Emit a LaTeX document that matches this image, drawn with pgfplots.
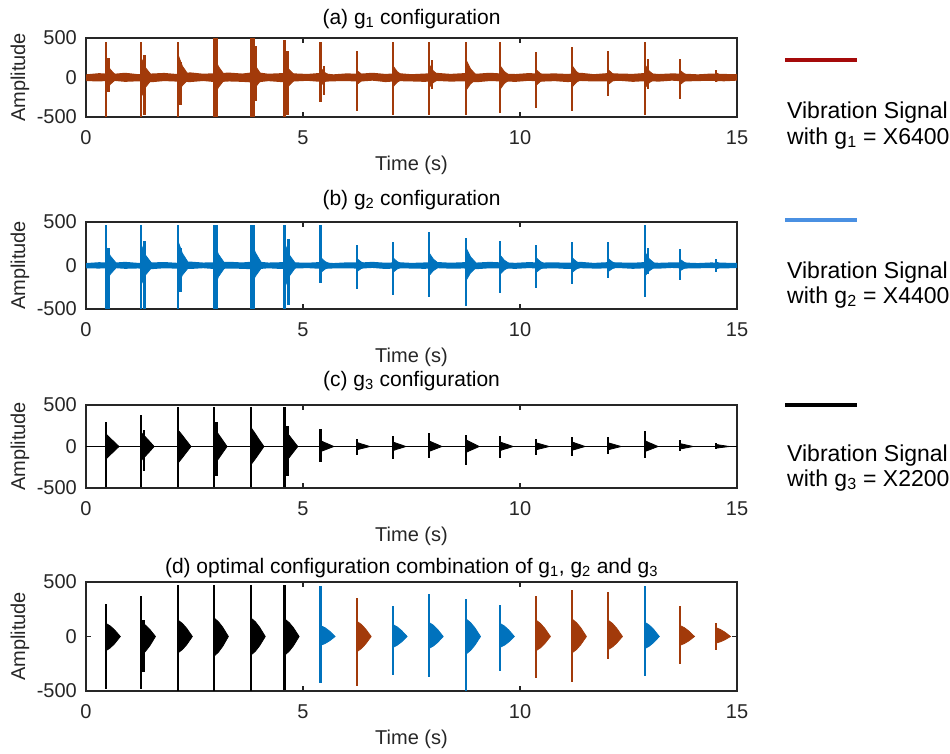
\documentclass[border=0pt]{standalone}
\usepackage{fontspec}
\setmainfont{Liberation Sans}
\usepackage{pgfplots}
\pgfplotsset{compat=1.18}

\definecolor{axgray}{RGB}{38,38,38}
\definecolor{sigred}{RGB}{162,58,10}
\definecolor{sigblue}{RGB}{0,114,189}
\definecolor{legred}{RGB}{165,10,10}
\definecolor{legblue}{RGB}{74,144,226}

\newcommand{\tfont}{\fontsize{21}{21}\selectfont}
\newcommand{\lfont}{\fontsize{23}{23}\selectfont}
\newcommand{\afont}{\fontsize{20}{20}\selectfont}

\pgfplotsset{
  sig/.style={
    scale only axis, width=651pt,
    xmin=0, xmax=15, ymin=-500, ymax=500,
    xtick={0,5,10,15}, ytick={-500,0,500},
    tick align=inside, tick pos=both, major tick length=5pt,
    axis line style={line width=1.1pt, axgray},
    every tick/.append style={line width=1.1pt, axgray},
    /pgf/number format/assume math mode=true,
    ticklabel style={font=\afont, text=axgray},
    xticklabel style={anchor=base, yshift=-27pt},
    yticklabel style={anchor=east, inner sep=0pt, xshift=-9pt},
    xlabel={Time (s)}, ylabel={Amplitude},
    every axis x label/.style={at={(axis description cs:0.5,0)}, anchor=base, yshift=-53pt, font=\afont, text=axgray},
    every axis y label/.style={at={(axis description cs:-0.1014,0.5)}, rotate=90, anchor=center, font=\afont, text=axgray},
    unbounded coords=jump,
  },
  spk/.style={ycomb, line width=2.6pt, mark=none},
  fin/.style={line width=0.8pt, mark=none},
}

\begin{document}
\begin{tikzpicture}
\path[use as bounding box] (0,0) rectangle (950pt,-753pt);

% (a) g1
\begin{axis}[sig, at={(86pt,-38pt)}, anchor=north west, height=79pt]
\addplot[fill=sigred, draw=none] coordinates {
(0,40) (0.3,55) (0.6,45) (0.9,60) (1.2,42) (1.5,50) (1.8,58) (2.1,44) (2.4,65) (2.7,48)
(3.0,55) (3.3,62) (3.6,50) (3.9,70) (4.2,48) (4.5,55) (4.8,52) (5.1,45) (5.4,58) (5.7,40)
(6.0,52) (6.3,48) (6.6,60) (6.9,45) (7.2,55) (7.5,42) (7.8,50) (8.1,58) (8.4,46) (8.7,55)
(9.0,48) (9.3,60) (9.6,50) (9.9,44) (10.2,56) (10.5,48) (10.8,52) (11.1,45) (11.4,60) (11.7,42)
(12.0,55) (12.3,50) (12.6,46) (12.9,58) (13.2,44) (13.5,52) (13.8,48) (14.1,40) (14.4,50) (14.7,45) (15,42)
(15,-40) (14.7,-48) (14.4,-42) (14.1,-45) (13.8,-50) (13.5,-40) (13.2,-52) (12.9,-46) (12.6,-55) (12.3,-42)
(12.0,-48) (11.7,-50) (11.4,-44) (11.1,-58) (10.8,-46) (10.5,-52) (10.2,-42) (9.9,-55) (9.6,-50) (9.3,-45)
(9.0,-60) (8.7,-48) (8.4,-52) (8.1,-44) (7.8,-55) (7.5,-50) (7.2,-46) (6.9,-58) (6.6,-40) (6.3,-52)
(6.0,-45) (5.7,-48) (5.4,-55) (5.1,-42) (4.8,-50) (4.5,-58) (4.2,-46) (3.9,-65) (3.6,-55) (3.3,-50)
(3.0,-60) (2.7,-44) (2.4,-58) (2.1,-52) (1.8,-45) (1.5,-60) (1.2,-48) (0.9,-55) (0.6,-40) (0.3,-50) (0,-45)
};
\addplot[fin, fill=sigred, draw=sigred] coordinates {
(0.46,200) (0.56,100) (0.74,0) (0.56,-85) (0.46,-170) (nan,nan)
(1.27,250) (1.37,125) (1.55,0) (1.37,-125) (1.27,-250) (nan,nan)
(2.12,290) (2.22,145) (2.40,0) (2.22,-100) (2.12,-200) (nan,nan)
(2.95,280) (3.05,140) (3.23,0) (3.05,-125) (2.95,-250) (nan,nan)
(3.80,300) (3.90,150) (4.08,0) (3.90,-125) (3.80,-250) (nan,nan)
(4.58,200) (4.68,100) (4.86,0) (4.68,-100) (4.58,-200) (nan,nan)
(5.41,120) (5.51,60) (5.69,0) (5.51,-50) (5.41,-100) (nan,nan)
(6.24,90) (6.34,45) (6.52,0) (6.34,-45) (6.24,-90) (nan,nan)
(7.07,150) (7.17,75) (7.35,0) (7.17,-60) (7.07,-120) (nan,nan)
(7.90,170) (8.00,85) (8.18,0) (8.00,-65) (7.90,-130) (nan,nan)
(8.76,220) (8.86,110) (9.04,0) (8.86,-80) (8.76,-160) (nan,nan)
(9.54,150) (9.64,75) (9.82,0) (9.64,-75) (9.54,-150) (nan,nan)
(10.37,100) (10.47,50) (10.65,0) (10.47,-50) (10.37,-100) (nan,nan)
(11.20,150) (11.30,75) (11.48,0) (11.30,-60) (11.20,-120) (nan,nan)
(12.03,100) (12.13,50) (12.31,0) (12.13,-45) (12.03,-90) (nan,nan)
(12.88,160) (12.98,80) (13.16,0) (12.98,-65) (12.88,-130) (nan,nan)
(13.69,90) (13.79,45) (13.97,0) (13.79,-45) (13.69,-90) (nan,nan)
(14.52,60) (14.62,30) (14.80,0) (14.62,-25) (14.52,-50)
};
\addplot[spk, sigred] coordinates {
(0.46,450) (0.46,-500) (0.52,250) (0.52,-180)
(1.27,450) (1.27,-500) (1.35,280) (1.35,-480)
(2.12,450) (2.12,-500) (2.18,200) (2.18,-350)
(2.95,500) (2.95,-500) (3.01,500) (3.01,-500)
(3.80,500) (3.80,-500) (3.86,500) (3.86,-500) (3.92,400) (3.92,-300)
(4.58,480) (4.58,-500) (4.64,330) (4.64,-480)
(5.41,450) (5.41,-305) (5.48,150) (5.48,-220)
(6.24,330) (6.24,-430)
(7.07,450) (7.07,-480)
(7.90,450) (7.90,-480) (7.97,220) (7.97,-150)
(8.76,450) (8.76,-480)
(9.54,450) (9.54,-450)
(10.37,320) (10.37,-390)
(11.20,380) (11.20,-430)
(12.03,330) (12.03,-230)
(12.88,450) (12.88,-480) (12.95,230) (12.95,-150)
(13.69,240) (13.69,-270)
(14.52,100) (14.52,-60)
};
\end{axis}

% (b) g2
\begin{axis}[sig, at={(86pt,-222pt)}, anchor=north west, height=87pt]
\addplot[fill=sigblue, draw=none] coordinates {
(0,28) (0.3,38) (0.6,32) (0.9,42) (1.2,30) (1.5,35) (1.8,40) (2.1,31) (2.4,45) (2.7,34)
(3.0,38) (3.3,43) (3.6,35) (3.9,48) (4.2,34) (4.5,38) (4.8,36) (5.1,32) (5.4,40) (5.7,28)
(6.0,36) (6.3,34) (6.6,42) (6.9,32) (7.2,38) (7.5,30) (7.8,35) (8.1,40) (8.4,32) (8.7,38)
(9.0,34) (9.3,42) (9.6,35) (9.9,31) (10.2,39) (10.5,34) (10.8,36) (11.1,32) (11.4,42) (11.7,30)
(12.0,38) (12.3,35) (12.6,32) (12.9,40) (13.2,31) (13.5,36) (13.8,34) (14.1,28) (14.4,35) (14.7,32) (15,30)
(15,-28) (14.7,-34) (14.4,-30) (14.1,-32) (13.8,-35) (13.5,-28) (13.2,-36) (12.9,-32) (12.6,-38) (12.3,-30)
(12.0,-34) (11.7,-35) (11.4,-31) (11.1,-40) (10.8,-32) (10.5,-36) (10.2,-30) (9.9,-38) (9.6,-35) (9.3,-32)
(9.0,-42) (8.7,-34) (8.4,-36) (8.1,-31) (7.8,-38) (7.5,-35) (7.2,-32) (6.9,-40) (6.6,-28) (6.3,-36)
(6.0,-32) (5.7,-34) (5.4,-38) (5.1,-30) (4.8,-35) (4.5,-40) (4.2,-32) (3.9,-45) (3.6,-38) (3.3,-35)
(3.0,-42) (2.7,-31) (2.4,-40) (2.1,-36) (1.8,-32) (1.5,-42) (1.2,-34) (0.9,-38) (0.6,-28) (0.3,-35) (0,-32)
};
\addplot[fin, fill=sigblue, draw=sigblue] coordinates {
(0.46,220) (0.56,110) (0.74,0) (0.56,-100) (0.46,-200) (nan,nan)
(1.27,240) (1.37,120) (1.55,0) (1.37,-110) (1.27,-220) (nan,nan)
(2.12,280) (2.22,140) (2.40,0) (2.22,-110) (2.12,-220) (nan,nan)
(2.95,260) (3.05,130) (3.23,0) (3.05,-130) (2.95,-260) (nan,nan)
(3.80,300) (3.90,150) (4.08,0) (3.90,-125) (3.80,-250) (nan,nan)
(4.58,250) (4.68,125) (4.86,0) (4.68,-125) (4.58,-250) (nan,nan)
(5.41,90) (5.51,45) (5.69,0) (5.51,-40) (5.41,-80) (nan,nan)
(6.24,80) (6.34,40) (6.52,0) (6.34,-35) (6.24,-70) (nan,nan)
(7.07,90) (7.17,45) (7.35,0) (7.17,-40) (7.07,-80) (nan,nan)
(7.90,150) (8.00,75) (8.18,0) (8.00,-60) (7.90,-120) (nan,nan)
(8.76,200) (8.86,100) (9.04,0) (8.86,-85) (8.76,-170) (nan,nan)
(9.54,120) (9.64,60) (9.82,0) (9.64,-50) (9.54,-100) (nan,nan)
(10.37,90) (10.47,45) (10.65,0) (10.47,-40) (10.37,-80) (nan,nan)
(11.20,90) (11.30,45) (11.48,0) (11.30,-40) (11.20,-80) (nan,nan)
(12.03,80) (12.13,40) (12.31,0) (12.13,-35) (12.03,-70) (nan,nan)
(12.88,150) (12.98,75) (13.16,0) (12.98,-60) (12.88,-120) (nan,nan)
(13.69,70) (13.79,35) (13.97,0) (13.79,-30) (13.69,-60) (nan,nan)
(14.52,40) (14.62,20) (14.80,0) (14.62,-20) (14.52,-40)
};
\addplot[spk, sigblue] coordinates {
(0.46,460) (0.46,-500) (0.52,200) (0.52,-500)
(1.27,460) (1.27,-500) (1.35,280) (1.35,-500)
(2.12,460) (2.12,-500) (2.18,200) (2.18,-300)
(2.95,460) (2.95,-500) (3.01,460) (3.01,-500)
(3.80,460) (3.80,-500) (3.86,460) (3.86,-500)
(4.58,460) (4.58,-500) (4.66,300) (4.66,-450)
(5.41,460) (5.41,-200)
(6.24,235) (6.24,-265)
(7.07,275) (7.07,-340)
(7.90,380) (7.90,-360)
(8.76,320) (8.76,-460)
(9.54,280) (9.54,-320)
(10.37,240) (10.37,-260)
(11.20,265) (11.20,-210)
(12.03,275) (12.03,-140)
(12.88,460) (12.88,-360) (12.95,200) (12.95,-100)
(13.69,190) (13.69,-170)
(14.52,80) (14.52,-75)
};
\end{axis}

% (c) g3
\begin{axis}[sig, at={(86pt,-405pt)}, anchor=north west, height=83pt]
\addplot[black, line width=1.6pt] coordinates {(0,0) (15,0)};
\addplot[fin, fill=black, draw=black] coordinates {
(0.46,150) (0.56,100) (0.64,60) (0.76,0) (0.64,-60) (0.56,-100) (0.46,-150) (nan,nan)
(1.27,170) (1.37,115) (1.45,70) (1.57,0) (1.45,-70) (1.37,-115) (1.27,-170) (nan,nan)
(2.12,200) (2.22,135) (2.30,80) (2.42,0) (2.30,-80) (2.22,-135) (2.12,-200) (nan,nan)
(2.95,220) (3.05,150) (3.13,90) (3.25,0) (3.13,-90) (3.05,-150) (2.95,-220) (nan,nan)
(3.80,230) (3.90,155) (3.98,90) (4.10,0) (3.98,-90) (3.90,-150) (3.80,-220) (nan,nan)
(4.58,200) (4.68,135) (4.76,80) (4.88,0) (4.76,-80) (4.68,-135) (4.58,-200) (nan,nan)
(5.41,70) (5.51,45) (5.59,28) (5.71,0) (5.59,-24) (5.51,-40) (5.41,-60) (nan,nan)
(6.24,50) (6.34,32) (6.42,20) (6.54,0) (6.42,-16) (6.34,-26) (6.24,-40) (nan,nan)
(7.07,55) (7.17,36) (7.25,22) (7.37,0) (7.25,-20) (7.17,-32) (7.07,-50) (nan,nan)
(7.90,70) (8.00,45) (8.08,28) (8.20,0) (8.08,-24) (8.00,-40) (7.90,-60) (nan,nan)
(8.76,80) (8.86,52) (8.94,32) (9.06,0) (8.94,-28) (8.86,-46) (8.76,-70) (nan,nan)
(9.54,55) (9.64,36) (9.72,22) (9.84,0) (9.72,-20) (9.64,-32) (9.54,-50) (nan,nan)
(10.37,45) (10.47,30) (10.55,18) (10.67,0) (10.55,-16) (10.47,-26) (10.37,-40) (nan,nan)
(11.20,55) (11.30,36) (11.38,22) (11.50,0) (11.38,-18) (11.30,-30) (11.20,-45) (nan,nan)
(12.03,45) (12.13,30) (12.21,18) (12.33,0) (12.21,-16) (12.13,-26) (12.03,-40) (nan,nan)
(12.88,70) (12.98,45) (13.06,28) (13.18,0) (13.06,-24) (12.98,-40) (12.88,-60) (nan,nan)
(13.69,35) (13.79,23) (13.87,14) (13.99,0) (13.87,-12) (13.79,-20) (13.69,-30) (nan,nan)
(14.52,25) (14.62,16) (14.70,10) (14.82,0) (14.70,-8) (14.62,-13) (14.52,-20)
};
\addplot[spk, black] coordinates {
(0.46,290) (0.46,-490)
(1.27,375) (1.27,-490) (1.34,200) (1.34,-300)
(2.12,470) (2.12,-490)
(2.95,470) (2.95,-490) (3.01,300) (3.01,-350)
(3.80,470) (3.80,-490)
(4.58,470) (4.58,-490) (4.64,250) (4.64,-350)
(5.41,210) (5.41,-185)
(6.24,85) (6.24,-100)
(7.07,125) (7.07,-155)
(7.90,160) (7.90,-135)
(8.76,140) (8.76,-225)
(9.54,125) (9.54,-135)
(10.37,95) (10.37,-100)
(11.20,115) (11.20,-110)
(12.03,110) (12.03,-85)
(12.88,190) (12.88,-135)
(13.69,75) (13.69,-60)
(14.52,40) (14.52,-35)
};
\end{axis}

% (d) optimal combination
\begin{axis}[sig, at={(86pt,-582pt)}, anchor=north west, height=109pt]
\addplot[fin, fill=black, draw=black] coordinates {
(0.46,120) (0.56,96) (0.66,60) (0.79,0) (0.66,-65) (0.56,-104) (0.46,-130) (nan,nan)
(1.27,130) (1.37,104) (1.47,65) (1.60,0) (1.47,-85) (1.37,-136) (1.27,-170) (nan,nan)
(2.12,150) (2.22,120) (2.32,75) (2.45,0) (2.32,-75) (2.22,-120) (2.12,-150) (nan,nan)
(2.95,170) (3.05,136) (3.15,85) (3.28,0) (3.15,-90) (3.05,-144) (2.95,-180) (nan,nan)
(3.80,170) (3.90,136) (4.00,85) (4.13,0) (4.00,-85) (3.90,-136) (3.80,-170) (nan,nan)
(4.58,160) (4.68,128) (4.78,80) (4.91,0) (4.78,-85) (4.68,-136) (4.58,-170)
};
\addplot[spk, black] coordinates {
(0.46,295) (0.46,-485)
(1.27,370) (1.27,-485) (1.33,150) (1.33,-330)
(2.12,475) (2.12,-500)
(2.95,475) (2.95,-500)
(3.80,475) (3.80,-500)
(4.58,475) (4.58,-490)
};
\addplot[fin, fill=sigblue, draw=sigblue] coordinates {
(5.41,100) (5.51,80) (5.61,50) (5.74,0) (5.61,-40) (5.51,-64) (5.41,-80) (nan,nan)
(7.07,110) (7.17,88) (7.27,55) (7.40,0) (7.27,-50) (7.17,-80) (7.07,-100) (nan,nan)
(7.90,130) (8.00,104) (8.10,65) (8.23,0) (8.10,-55) (8.00,-88) (7.90,-110) (nan,nan)
(8.76,160) (8.86,128) (8.96,80) (9.09,0) (8.96,-80) (8.86,-128) (8.76,-160) (nan,nan)
(9.54,120) (9.64,96) (9.74,60) (9.87,0) (9.74,-50) (9.64,-80) (9.54,-100) (nan,nan)
(12.88,130) (12.98,104) (13.08,65) (13.21,0) (13.08,-55) (12.98,-88) (12.88,-110)
};
\addplot[spk, sigblue] coordinates {
(5.41,465) (5.41,-430)
(7.07,280) (7.07,-350)
(7.90,390) (7.90,-370)
(8.76,340) (8.76,-500)
(9.54,285) (9.54,-320)
(12.88,465) (12.88,-365)
};
\addplot[fin, fill=sigred, draw=sigred] coordinates {
(6.24,140) (6.34,112) (6.44,70) (6.57,0) (6.44,-70) (6.34,-112) (6.24,-140) (nan,nan)
(10.37,150) (10.47,120) (10.57,75) (10.70,0) (10.57,-65) (10.47,-104) (10.37,-130) (nan,nan)
(11.20,160) (11.30,128) (11.40,80) (11.53,0) (11.40,-75) (11.30,-120) (11.20,-150) (nan,nan)
(12.03,150) (12.13,120) (12.23,75) (12.36,0) (12.23,-60) (12.13,-96) (12.03,-120) (nan,nan)
(13.69,100) (13.79,80) (13.89,50) (14.02,0) (13.89,-40) (13.79,-64) (13.69,-80) (nan,nan)
(14.52,80) (14.62,64) (14.72,40) (14.85,0) (14.72,-30) (14.62,-48) (14.52,-60)
};
\addplot[spk, sigred] coordinates {
(6.24,350) (6.24,-450)
(10.37,370) (10.37,-385)
(11.20,425) (11.20,-420)
(12.03,410) (12.03,-210)
(13.69,280) (13.69,-255)
(14.52,120) (14.52,-120)
};
\end{axis}

% panel titles
\node[anchor=base, font=\tfont] at (411.5pt,-24pt) {(a) g\textsubscript{1} configuration};
\node[anchor=base, font=\tfont] at (411.5pt,-205pt) {(b) g\textsubscript{2} configuration};
\node[anchor=base, font=\tfont] at (411.5pt,-386pt) {(c) g\textsubscript{3} configuration};
\node[anchor=base, font=\tfont] at (411.5pt,-573pt) {(d) optimal configuration combination of g\textsubscript{1}, g\textsubscript{2} and g\textsubscript{3}};

% legend on the right
\draw[legred, line width=3.5pt] (785pt,-60pt) -- (857pt,-60pt);
\node[anchor=base west, inner sep=0pt, font=\lfont] at (787pt,-118pt) {Vibration Signal};
\node[anchor=base west, inner sep=0pt, font=\lfont] at (787pt,-144pt) {with g\textsubscript{1} = X6400};
\draw[legblue, line width=3.5pt] (785pt,-220pt) -- (857pt,-220pt);
\node[anchor=base west, inner sep=0pt, font=\lfont] at (787pt,-278pt) {Vibration Signal};
\node[anchor=base west, inner sep=0pt, font=\lfont] at (787pt,-303pt) {with g\textsubscript{2} = X4400};
\draw[black, line width=3.5pt] (785pt,-405pt) -- (857pt,-405pt);
\node[anchor=base west, inner sep=0pt, font=\lfont] at (787pt,-461pt) {Vibration Signal};
\node[anchor=base west, inner sep=0pt, font=\lfont] at (787pt,-486pt) {with g\textsubscript{3} = X2200};
\end{tikzpicture}
\end{document}
